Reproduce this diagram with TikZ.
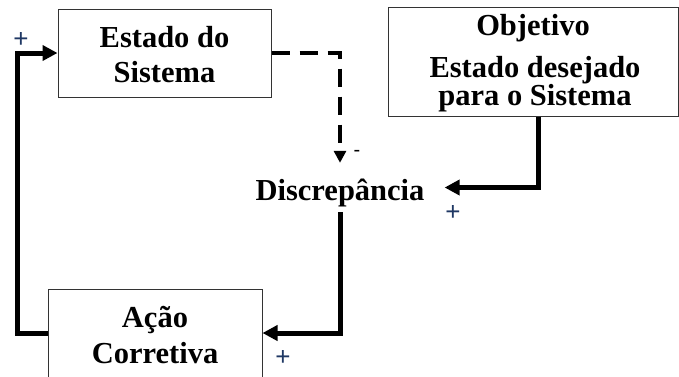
\documentclass[tikz,border=0pt]{standalone}
\usepackage{fontspec}
\setmainfont{Liberation Serif}
\newfontfamily\signfont{Liberation Sans}
\usetikzlibrary{arrows.meta,calc}
\definecolor{signblue}{RGB}{31,56,100}
\tikzset{
  box/.style={draw=black!80, line width=1pt, inner sep=0pt, fill=white},
  txt/.style={inner sep=0pt, anchor=base, font=\fontsize{30.5}{35}\selectfont\bfseries},
  flow/.style={line width=5pt, line join=miter, -{Triangle[length=15pt,width=15pt]}},
  feedback/.style={line width=4pt, line join=miter, dash pattern=on 18pt off 10pt, -{Triangle[length=12pt,width=12pt]}},
  sign/.style={inner sep=0pt, text=signblue, font=\signfont\fontsize{26}{26}\selectfont},
  minus/.style={inner sep=0pt, text=black, font=\signfont\fontsize{20}{20}\selectfont}
}
\begin{document}
\begin{tikzpicture}[x=1pt,y=-1pt]
\useasboundingbox (0,0) rectangle (679,376);
\clip (0,0) rectangle (679,376);
% boxes
\node[box, minimum width=213pt, minimum height=88pt] (est) at (164.5,53) {};
\node[box, minimum width=290pt, minimum height=109pt] (obj) at (533,61.5) {};
\node[box, minimum width=214pt, minimum height=88pt] (act) at (155,333) {};
% texts
\node[txt] (est1) at (164.5,47) {Estado do};
\node[txt] (est2) at (164.5,82) {Sistema};
\node[txt] (obj1) at (533,35) {Objetivo};
\node[txt] (obj2) at (535,77.5) {Estado desejado};
\node[txt] (obj3) at (535,105) {para o Sistema};
\node[txt, text height=37pt, text depth=12pt, inner xsep=20pt] (disc) at (340,200) {Discrep\^ancia};
\node[txt] (act1) at (155,327) {Ação};
\node[txt] (act2) at (155,363) {Corretiva};
% connectors
\draw[feedback] (est.east) -| (disc.north);
\draw[flow] ($(obj.south)+(5,0)$) |- (disc.east);
\draw[flow] (disc.south) |- (act.east);
\draw[flow] (act.west) -- ++(-30,0) |- (est.west);
% signs
\node[sign] (p1) at (21,40) {+};
\node[sign] (p2) at (453,213) {+};
\node[sign] (p3) at (283,358) {+};
\node[minus] (m1) at (357,153) {-};
\end{tikzpicture}
\end{document}
